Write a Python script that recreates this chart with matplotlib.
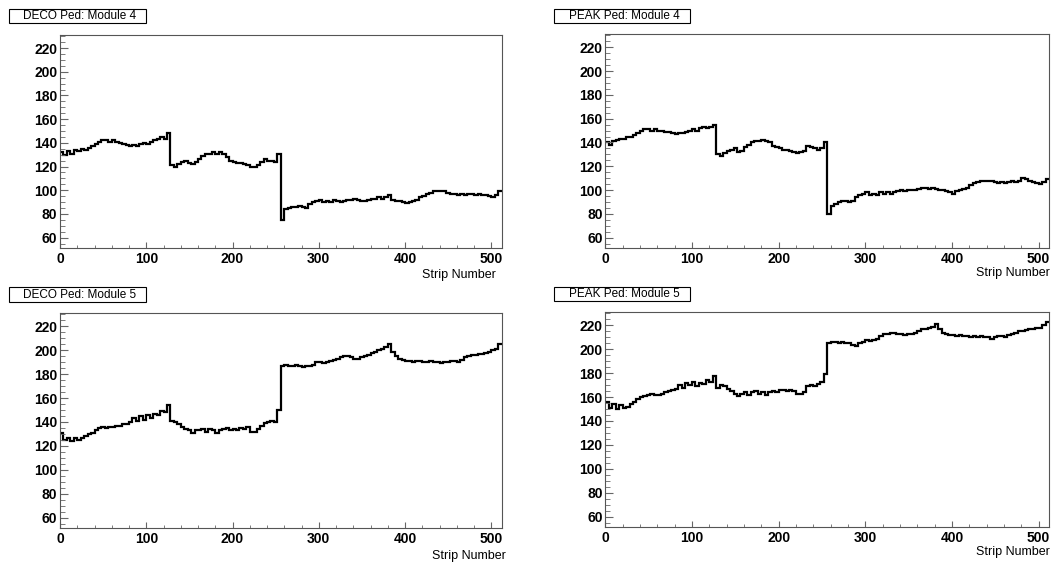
import numpy as np
import matplotlib
matplotlib.use("Agg")
import matplotlib.pyplot as plt
from matplotlib.patches import Rectangle
from matplotlib.ticker import MultipleLocator

plt.rcParams['font.family'] = ['Liberation Sans', 'DejaVu Sans']

# pedestal per group of 4 strips (512 strips -> 128 values)
deco_mod4 = [
    132, 130, 133, 131, 134, 133, 135, 134,
    136, 137, 139, 141, 142, 142, 141, 142,
    141, 140, 139, 138, 137, 138, 137, 139,
    140, 139, 141, 142, 143, 145, 143, 148,
    121, 120, 122, 124, 125, 123, 122, 124,
    126, 129, 131, 131, 132, 131, 132, 131,
    128, 125, 124, 123, 123, 122, 121, 120,
    120, 121, 124, 126, 125, 125, 124, 131,
    75, 84, 85, 86, 86, 87, 86, 85,
    88, 90, 91, 92, 90, 91, 90, 92,
    91, 90, 91, 92, 92, 93, 92, 91,
    91, 92, 93, 93, 94, 93, 94, 96,
    92, 91, 91, 90, 89, 90, 91, 92,
    94, 95, 97, 98, 99, 99, 99, 99,
    98, 97, 97, 96, 97, 96, 97, 97,
    96, 97, 96, 96, 95, 94, 96, 99,
]

peak_mod4 = [
    140, 138, 141, 142, 143, 143, 145, 145,
    146, 148, 150, 151, 151, 150, 151, 150,
    150, 149, 149, 148, 147, 148, 148, 149,
    150, 151, 150, 152, 153, 152, 153, 155,
    130, 129, 131, 133, 134, 135, 132, 133,
    136, 138, 140, 141, 141, 142, 141, 140,
    137, 136, 135, 134, 134, 133, 132, 131,
    132, 133, 137, 136, 135, 134, 135, 140,
    80, 87, 88, 90, 91, 91, 90, 91,
    94, 96, 97, 98, 96, 97, 96, 98,
    97, 98, 97, 98, 99, 100, 99, 100,
    100, 100, 101, 102, 102, 101, 102, 101,
    100, 100, 99, 98, 97, 99, 100, 101,
    102, 104, 106, 107, 108, 108, 108, 108,
    107, 106, 107, 106, 107, 108, 107, 108,
    110, 109, 108, 107, 106, 105, 107, 109,
]

deco_mod5 = [
    131, 125, 127, 124, 127, 125, 127, 128,
    130, 131, 133, 135, 136, 135, 136, 136,
    137, 137, 138, 138, 140, 143, 141, 145,
    142, 146, 143, 147, 146, 149, 148, 154,
    141, 140, 138, 136, 134, 133, 131, 133,
    133, 134, 132, 134, 133, 131, 133, 134,
    135, 133, 134, 133, 135, 134, 136, 132,
    132, 134, 137, 139, 140, 141, 140, 150,
    187, 188, 187, 187, 188, 187, 186, 187,
    187, 188, 190, 190, 189, 190, 191, 192,
    193, 194, 195, 195, 194, 193, 193, 194,
    195, 196, 198, 199, 200, 201, 203, 205,
    199, 195, 193, 192, 191, 191, 190, 191,
    191, 190, 190, 191, 190, 190, 189, 190,
    190, 191, 191, 190, 192, 194, 195, 196,
    196, 197, 197, 198, 199, 200, 201, 205,
]

peak_mod5 = [
    156, 151, 154, 150, 153, 151, 152, 154,
    156, 158, 160, 161, 162, 163, 162, 162,
    163, 164, 165, 166, 167, 170, 168, 172,
    170, 173, 169, 172, 171, 174, 173, 178,
    168, 170, 169, 167, 165, 163, 161, 163,
    164, 162, 164, 165, 163, 164, 162, 164,
    165, 164, 166, 166, 165, 166, 165, 163,
    163, 164, 169, 170, 169, 171, 173, 179,
    205, 206, 206, 205, 206, 205, 205, 204,
    203, 205, 206, 208, 207, 208, 209, 211,
    213, 213, 214, 214, 213, 213, 212, 213,
    213, 214, 215, 217, 217, 218, 219, 221,
    217, 214, 213, 212, 212, 211, 212, 211,
    211, 210, 211, 210, 211, 210, 210, 209,
    210, 211, 211, 210, 212, 213, 214, 215,
    215, 216, 217, 217, 218, 218, 220, 223,
]

titles = ["DECO Ped: Module 4", "PEAK Ped: Module 4",
          "DECO Ped: Module 5", "PEAK Ped: Module 5"]
series = [deco_mod4, peak_mod4, deco_mod5, peak_mod5]
edges = np.arange(0, 513, 4)

W, H = 1056, 562
fig = plt.figure(figsize=(W / 100, H / 100), dpi=100)
fig.patch.set_facecolor('white')

# pixel layout: (left, right, top, bottom) of each frame
frames = [(60, 501.7, 35, 248.3), (605.3, 1049, 34.3, 248.3),
          (60, 501.7, 313.3, 528.3), (605.3, 1049, 312.3, 527.3)]
boxes = [(9, 146, 9.3, 23.3), (554, 690, 9, 22.7),
         (9, 146, 287.3, 301.7), (554, 690, 286.7, 300.7)]
xlabel_pos = [(496, 275), (1050, 273), (506, 555.5), (1050, 552)]

for i in range(4):
    l, r, t, b = frames[i]
    ax = fig.add_axes([l / W, 1 - b / H, (r - l) / W, (b - t) / H])
    ax.stairs(series[i], edges, baseline=None, color='black', linewidth=1.6)
    ax.set_xlim(0, 512)
    ax.set_ylim(51, 231)
    ax.xaxis.set_major_locator(MultipleLocator(100))
    ax.xaxis.set_minor_locator(MultipleLocator(20))
    ax.yaxis.set_major_locator(MultipleLocator(20))
    ax.yaxis.set_minor_locator(MultipleLocator(5))
    ax.tick_params(axis='both', which='both', direction='in', color='#666666',
                   top=False, right=False, labelsize=10)
    ax.tick_params(axis='y', which='major', length=5.8, pad=2)
    ax.tick_params(axis='y', which='minor', length=3.5)
    ax.tick_params(axis='x', which='major', length=4.3, pad=3)
    ax.tick_params(axis='x', which='minor', length=2.2)
    for lab in ax.get_xticklabels() + ax.get_yticklabels():
        lab.set_fontweight('bold')
    for sp in ax.spines.values():
        sp.set_color('#555555')
        sp.set_linewidth(0.8)

    bl, br, bt, bb = boxes[i]
    fig.patches.append(Rectangle((bl / W, 1 - bb / H), (br - bl) / W, (bb - bt) / H,
                                 transform=fig.transFigure, facecolor='white',
                                 edgecolor='black', linewidth=0.8))
    fig.text((bl + br) / 2 / W + 2 / W, 1 - (bt + bb) / 2 / H, titles[i],
             ha='center', va='center', fontsize=8.5)

    xl, yl = xlabel_pos[i]
    fig.text(xl / W, 1 - yl / H, "Strip Number", ha='right', va='center', fontsize=9)

fig.savefig("out.png", dpi=100)
